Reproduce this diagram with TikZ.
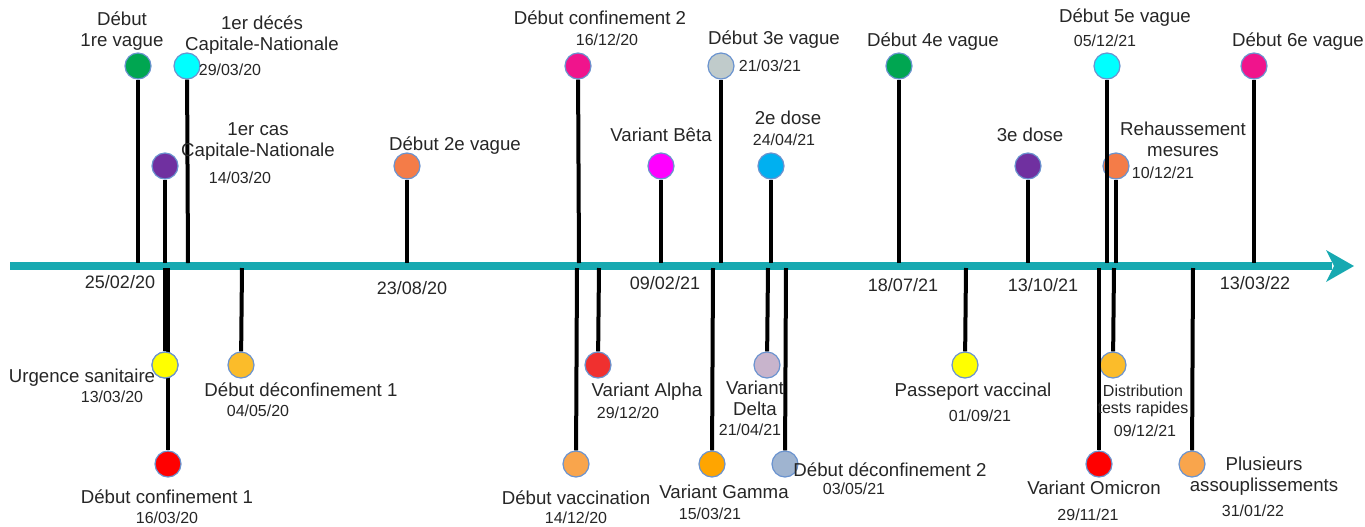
\documentclass[tikz,border=0pt]{standalone}
\usepackage{fontspec}
\setmainfont{Liberation Sans}
\definecolor{axiscol}{HTML}{17A9B1}
\definecolor{txt}{HTML}{262626}
\definecolor{rim}{HTML}{6A93CF}
\definecolor{cgreen}{HTML}{00A651}
\definecolor{ccyan}{HTML}{00FFFF}
\definecolor{cpurple}{HTML}{7030A0}
\definecolor{ccoral}{HTML}{F47C48}
\definecolor{cpink}{HTML}{F0148C}
\definecolor{cmagenta}{HTML}{FF00FF}
\definecolor{cgrey}{HTML}{C0CBCB}
\definecolor{cblue}{HTML}{00B0F0}
\definecolor{cyellow}{HTML}{FFFF00}
\definecolor{cred}{HTML}{FF0000}
\definecolor{camber}{HTML}{FBBC2A}
\definecolor{clorange}{HTML}{F9A54C}
\definecolor{calpha}{HTML}{F0302F}
\definecolor{cgamma}{HTML}{FFA500}
\definecolor{clilac}{HTML}{C8B4CC}
\definecolor{cgblue}{HTML}{9FB4D0}
\tikzset{
  dot/.style={circle, draw=rim, line width=0.9pt, minimum size=19.5pt, inner sep=0pt},
  stem/.style={line width=3pt, black},
  lbl/.style={text=txt, font=\fontsize{14}{15.75}\selectfont, align=center, inner sep=0pt},
  dat/.style={text=txt, font=\fontsize{12}{15}\selectfont, inner sep=0pt},
  adat/.style={text=txt, font=\fontsize{13.5}{15}\selectfont, inner sep=0pt},
  small/.style={text=txt, font=\fontsize{12}{13}\selectfont, align=center, inner sep=0pt},
}
\begin{document}
\begin{tikzpicture}[x=0.75pt, y=-0.75pt]
\useasboundingbox (0,0) rectangle (1365,526);
% axis
\coordinate (axs) at (10,266);
\coordinate (axe) at (1332,266);
\draw[axiscol, line width=6.5pt] (axs) -- (axe);
\fill[axiscol] (1354,266) -- (1326,250) -- (1334,266) -- (1326,282) -- cycle;

% ---------- upper events ----------
\node[dot, fill=cgreen]   (u1)  at (138,66) {};
\node[dot, fill=ccyan]    (u2)  at (187,66) {};
\node[dot, fill=cpurple]  (u3)  at (165,166) {};
\node[dot, fill=ccoral]   (u4)  at (407,166) {};
\node[dot, fill=cpink]    (u5)  at (578,66) {};
\node[dot, fill=cmagenta] (u6)  at (661,166) {};
\node[dot, fill=cgrey]    (u7)  at (721,66) {};
\node[dot, fill=cblue]    (u8)  at (771,166) {};
\node[dot, fill=cgreen]   (u9)  at (899,66) {};
\node[dot, fill=cpurple]  (u10) at (1028,166) {};
\node[dot, fill=ccyan]    (u11) at (1107,66) {};
\node[dot, fill=ccoral]   (u12) at (1116,166) {};
\node[dot, fill=cpink]    (u13) at (1254,66) {};

\foreach \n/\x in {u1/138,u2/188,u3/165,u4/407,u5/579,u6/661,u7/721,u8/771,u9/899,u10/1028,u11/1107,u12/1116,u13/1254}{
  \coordinate (\n b) at (\x,263);
}
\foreach \n in {u1,u2,u3,u4,u5,u6,u7,u8,u9,u10,u11,u12,u13}{
  \draw[stem] (\n) -- (\n b);
}

% ---------- lower events ----------
\node[dot, fill=cyellow]  (d1)  at (165,365) {};
\node[dot, fill=cred]     (d2)  at (168,464) {};
\node[dot, fill=camber]   (d3)  at (241,365) {};
\node[dot, fill=clorange] (d4)  at (576,464) {};
\node[dot, fill=calpha]   (d5)  at (598,365) {};
\node[dot, fill=cgamma]   (d6)  at (712,464) {};
\node[dot, fill=clilac]   (d7)  at (767,365) {};
\node[dot, fill=cgblue]   (d8)  at (785,464) {};
\node[dot, fill=cyellow]  (d9)  at (965,365) {};
\node[dot, fill=cred]     (d10) at (1099,464) {};
\node[dot, fill=camber]   (d11) at (1113,365) {};
\node[dot, fill=clorange] (d12) at (1192,464) {};

\foreach \n/\x in {d1/165,d2/168,d3/242,d4/577,d5/599,d6/713,d7/768,d8/786,d9/966,d10/1099,d11/1114,d12/1193}{
  \coordinate (\n t) at (\x,268);
}
\foreach \n in {d1,d2,d3,d4,d5,d6,d7,d8,d9,d10,d11,d12}{
  \draw[stem] (\n t) -- (\n);
}
% redraw circles on top of the long stem
\node[dot, fill=cyellow]  at (d1) {};

% ---------- upper labels ----------
\node[lbl] (l1)  at (122,31)  {Début\\1re vague};
\node[lbl] (l2)  at (262,35)  {1er décés\\Capitale-Nationale};
\node[dat] (l2d) at (230,70)  {29/03/20};
\node[lbl] (l3)  at (258,142) {1er cas\\Capitale-Nationale};
\node[dat] (l3d) at (240,178) {14/03/20};
\node[lbl] (l4)  at (455,146) {Début 2e vague};
\node[lbl] (l5)  at (600,18)  {Début confinement 2};
\node[dat] (l5d) at (607,40)  {16/12/20};
\node[lbl] (l6)  at (661,135) {Variant Bêta};
\node[lbl] (l7)  at (774,40)  {Début 3e vague};
\node[dat] (l7d) at (770,66)  {21/03/21};
\node[lbl] (l8)  at (788,118) {2e dose};
\node[dat] (l8d) at (784,140) {24/04/21};
\node[lbl] (l9)  at (933,42)  {Début 4e vague};
\node[lbl] (l10) at (1030,135) {3e dose};
\node[lbl] (l11) at (1125,18) {Début 5e vague};
\node[dat] (l11d) at (1105,41) {05/12/21};
\node[lbl] (l12) at (1183,139) {Rehaussement\\mesures};
\node[dat] (l12d) at (1163,173) {10/12/21};
\node[lbl] (l13) at (1298,42) {Début 6e vague};

% ---------- axis dates ----------
\node[adat] (a1) at (120,282) {25/02/20};
\node[adat] (a2) at (412,288) {23/08/20};
\node[adat] (a3) at (665,283) {09/02/21};
\node[adat] (a4) at (903,285) {18/07/21};
\node[adat] (a5) at (1043,285) {13/10/21};
\node[adat] (a6) at (1255,283) {13/03/22};

% ---------- lower labels ----------
\node[lbl] (m1)  at (82,378)  {Urgence sanitaire};
\node[dat] (m1d) at (112,397) {13/03/20};
\node[lbl] (m2)  at (167,497) {Début confinement 1};
\node[dat] (m2d) at (167,518) {16/03/20};
\node[lbl] (m3)  at (301,390) {Début déconfinement 1};
\node[dat] (m3d) at (258,411) {04/05/20};
\node[lbl] (m4)  at (576,498) {Début vaccination};
\node[dat] (m4d) at (576,518) {14/12/20};
\node[lbl] (m5)  at (647,392) {Variant Alpha};
\node[dat] (m5d) at (628,413) {29/12/20};
\node[lbl] (m6)  at (724,492) {Variant Gamma};
\node[dat] (m6d) at (710,514) {15/03/21};
\node[lbl] (m7)  at (755,398) {Variant\\Delta};
\node[dat] (m7d) at (750,430) {21/04/21};
\node[lbl] (m8)  at (890,470) {Début déconfinement 2};
\node[dat] (m8d) at (854,489) {03/05/21};
\node[lbl] (m9)  at (973,392) {Passeport vaccinal};
\node[dat] (m9d) at (980,416) {01/09/21};
\node[lbl] (m10) at (1094,488) {Variant Omicron};
\node[dat] (m10d) at (1088,515) {29/11/21};
\node[small] (m11) at (1143,401) {Distribution\\tests rapides};
\node[dat] (m11d) at (1145,431) {09/12/21};
\node[lbl] (m12) at (1264,476) {Plusieurs\\assouplissements};
\node[dat] (m12d) at (1253,511) {31/01/22};
\end{tikzpicture}
\end{document}
